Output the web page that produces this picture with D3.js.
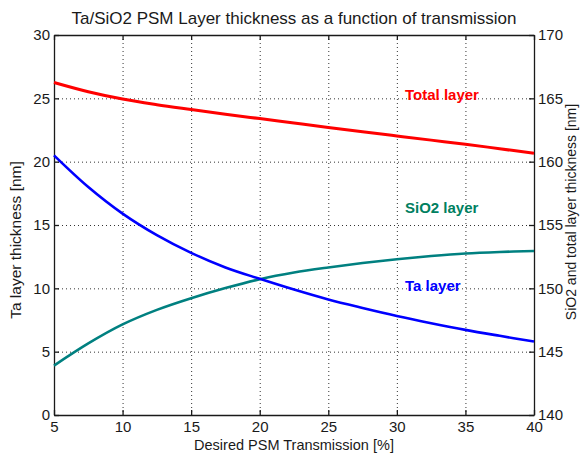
<!DOCTYPE html>
<html>
<head>
<meta charset="utf-8">
<script src="https://cdn.jsdelivr.net/npm/d3@7"></script>
<style>
  html, body { margin: 0; padding: 0; background: #fff; }
  svg { display: block; }
  text { font-family: "Liberation Sans", Arial, sans-serif; fill: #1a1a1a; }
</style>
</head>
<body>
<svg id="chart" width="581" height="456"></svg>
<script>
// Desired PSM transmission [%]
const transmission = [5, 7.5, 10, 12.5, 15, 17.5, 20, 22.5, 25, 27.5, 30, 32.5, 35, 37.5, 40];
// Ta layer thickness [nm] (left axis)
const taLayer = [20.5, 18.0, 15.9, 14.2, 12.8, 11.65, 10.75, 9.9, 9.12, 8.45, 7.82, 7.25, 6.72, 6.25, 5.8];
// SiO2 layer thickness [nm] (right axis)
const sio2Layer = [143.9, 145.65, 147.15, 148.3, 149.22, 150.02, 150.72, 151.25, 151.65, 152.0, 152.3, 152.55, 152.75, 152.87, 152.95];
// Total layer thickness [nm] (right axis)
const totalLayer = [166.25, 165.52, 164.94, 164.5, 164.12, 163.75, 163.4, 163.05, 162.7, 162.36, 162.03, 161.7, 161.38, 161.02, 160.66];

const xTicks = [5, 10, 15, 20, 25, 30, 35, 40];
const leftTicks = [0, 5, 10, 15, 20, 25, 30];
const rightTicks = [140, 145, 150, 155, 160, 165, 170];

const svg = d3.select("#chart");
const m = { left: 54, right: 534, top: 35, bottom: 415 };

const x = d3.scaleLinear().domain([5, 40]).range([m.left, m.right]);
const yL = d3.scaleLinear().domain([0, 30]).range([m.bottom, m.top]);
const yR = d3.scaleLinear().domain([140, 170]).range([m.bottom, m.top]);

// dotted grid
const grid = svg.append("g").attr("stroke", "#333").attr("stroke-width", 1)
  .attr("stroke-dasharray", "1,3");
xTicks.slice(1, -1).forEach(t => {
  grid.append("line").attr("x1", x(t) + 0.5).attr("x2", x(t) + 0.5)
    .attr("y1", m.top).attr("y2", m.bottom);
});
leftTicks.slice(1, -1).forEach(t => {
  grid.append("line").attr("x1", m.left).attr("x2", m.right)
    .attr("y1", yL(t) + 0.5).attr("y2", yL(t) + 0.5);
});

// axes with inward ticks
const tickFont = g => g.selectAll("text")
  .style("font-family", "'Liberation Sans', Arial, sans-serif")
  .style("font-size", "15px").attr("fill", "#1a1a1a");

const axB = svg.append("g").attr("transform", `translate(0,${m.bottom})`)
  .call(d3.axisBottom(x).tickValues(xTicks).tickSizeInner(-5).tickSizeOuter(0).tickPadding(6));
axB.call(tickFont);
const axT = svg.append("g").attr("transform", `translate(0,${m.top})`)
  .call(d3.axisTop(x).tickValues(xTicks).tickSizeInner(-5).tickSizeOuter(0).tickFormat(""));
const axL = svg.append("g").attr("transform", `translate(${m.left},0)`)
  .call(d3.axisLeft(yL).tickValues(leftTicks).tickSizeInner(-5).tickSizeOuter(0).tickPadding(4));
axL.call(tickFont);
const axR = svg.append("g").attr("transform", `translate(${m.right},0)`)
  .call(d3.axisRight(yR).tickValues(rightTicks).tickSizeInner(-5).tickSizeOuter(0).tickPadding(4));
axR.call(tickFont);
[axB, axT, axL, axR].forEach(a => {
  a.selectAll("path, line").attr("stroke", "#1a1a1a").attr("stroke-width", 1.3);
});

// curves
const line = ys => d3.line()
  .x((d, i) => x(transmission[i]))
  .y(d => ys(d))
  .curve(d3.curveCatmullRom.alpha(0.5));

svg.append("path").datum(totalLayer).attr("d", line(yR))
  .attr("fill", "none").attr("stroke", "#ff0000").attr("stroke-width", 3);
svg.append("path").datum(sio2Layer).attr("d", line(yR))
  .attr("fill", "none").attr("stroke", "#008080").attr("stroke-width", 2.6);
svg.append("path").datum(taLayer).attr("d", line(yL))
  .attr("fill", "none").attr("stroke", "#0000ff").attr("stroke-width", 2.6);

// series labels
const lbl = (t, yy, c) => svg.append("text").attr("x", 405).attr("y", yy)
  .attr("font-size", 15).attr("font-weight", "bold").style("fill", c).text(t);
lbl("Total layer", 100, "#ff0000");
lbl("SiO2 layer", 213, "#008060");
lbl("Ta layer", 291, "#0000ff");

// title and axis labels
svg.append("text").attr("x", (m.left + m.right) / 2).attr("y", 24)
  .attr("text-anchor", "middle").attr("font-size", 17)
  .text("Ta/SiO2 PSM Layer thickness as a function of transmission");
svg.append("text").attr("x", (m.left + m.right) / 2).attr("y", 450)
  .attr("text-anchor", "middle").attr("font-size", 14.5)
  .text("Desired PSM Transmission [%]");
svg.append("text").attr("transform", "translate(21,240) rotate(-90)")
  .attr("text-anchor", "middle").attr("font-size", 15.5)
  .text("Ta layer thickness [nm]");
svg.append("text").attr("transform", "translate(576,212) rotate(-90)")
  .attr("text-anchor", "middle").attr("font-size", 14)
  .text("SiO2 and total layer thickness [nm]");
</script>
</body>
</html>
